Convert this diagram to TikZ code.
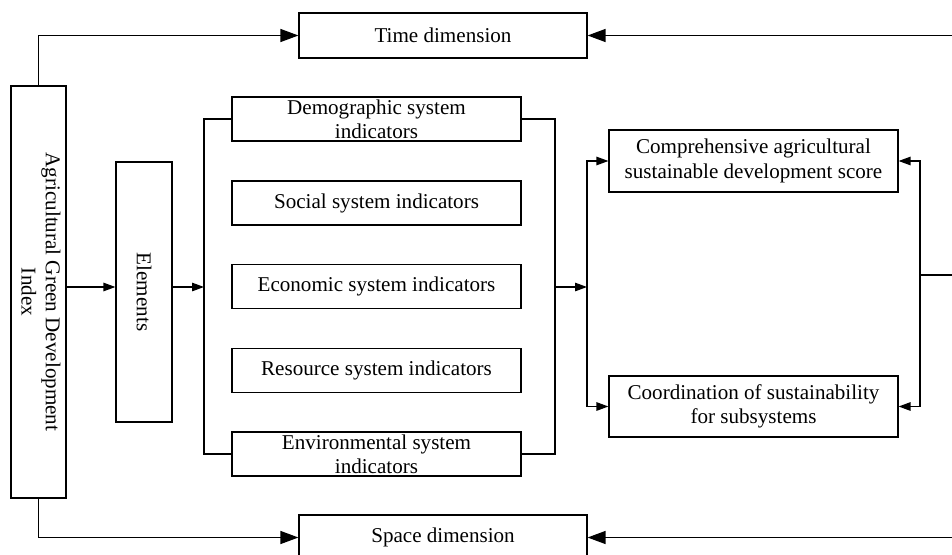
\documentclass[tikz,border=0pt]{standalone}
\usepackage{fontspec}
\setmainfont{Liberation Serif}
\usepackage{graphicx}
\usetikzlibrary{arrows.meta}

\tikzset{
  box/.style={draw, line width=0.7pt, align=center, inner sep=1pt,
    font=\fontsize{12pt}{13.8pt}\selectfont},
  sysbox/.style={box, minimum width=5.78cm, minimum height=0.88cm},
  bigarr/.style={line width=0.7pt, -{Triangle[length=0.36cm, width=0.26cm]}},
  smallarr/.style={line width=0.7pt, -{Triangle[length=0.24cm, width=0.17cm]}},
  conn/.style={line width=0.7pt},
}

\begin{document}
\begin{tikzpicture}[x=0.02cm, y=-0.02cm]
  \useasboundingbox (0,0) rectangle (952,554);
  \clip (0,0) rectangle (952,554);

  \node [box, minimum width=1.1cm, minimum height=8.24cm] (agi) at (38.5,292)
    {\rotatebox{-90}{\begin{tabular}{@{}c@{}}Agricultural Green Development\\Index\end{tabular}}};
  \node [box, minimum width=1.12cm, minimum height=5.2cm] (elem) at (144,292)
    {\rotatebox{-90}{Elements}};

  \node [box, minimum width=5.76cm, minimum height=0.9cm] (time)  at (443,35.5) {Time dimension};
  \node [box, minimum width=5.76cm, minimum height=0.9cm] (space) at (443,537.5) {Space dimension};

  \node [sysbox] (demo)   at (376.5,119)   {Demographic system\\indicators};
  \node [sysbox] (social) at (376.5,203)   {Social system indicators};
  \node [sysbox] (econ)   at (376.5,286.5) {Economic system indicators};
  \node [sysbox] (res)    at (376.5,370.5) {Resource system indicators};
  \node [sysbox] (env)    at (376.5,454)   {Environmental system\\indicators};

  \node [box, minimum width=5.78cm, minimum height=1.24cm] (comp)  at (753.5,161)
    {Comprehensive agricultural\\sustainable development score};
  \node [box, minimum width=5.78cm, minimum height=1.22cm] (coord) at (753.5,406.5)
    {Coordination of sustainability\\for subsystems};

  \coordinate (mid) at (0,287);
  \coordinate (lb) at (204,287);
  \coordinate (rb) at (555,287);
  \coordinate (lj) at (587,287);
  \coordinate (rj) at (920,275);
  \coordinate (rE) at (960,275);
  \coordinate (tE) at (960,35.5);
  \coordinate (sE) at (960,537.5);

  % time and space
  \draw [bigarr] (agi.north) |- (time.west);
  \draw [bigarr] (agi.south) |- (space.west);
  \draw [bigarr] (tE) -- (time.east);
  \draw [bigarr] (sE) -- (space.east);

  % elements to indicators
  \draw [smallarr] (agi.east |- mid) -- (elem.west |- mid);
  \draw [smallarr] (elem.east |- mid) -- (lb);
  \draw [conn] (demo.west) -| (lb) |- (env.west);
  \draw [conn] (demo.east) -| (rb) |- (env.east);
  \draw [smallarr] (rb) -- (lj);

  % results
  \draw [smallarr] (lj) |- (comp.west);
  \draw [smallarr] (lj) |- (coord.west);
  \draw [conn] (rE) -- (rj);
  \draw [smallarr] (rj) |- (comp.east);
  \draw [smallarr] (rj) |- (coord.east);
\end{tikzpicture}
\end{document}
